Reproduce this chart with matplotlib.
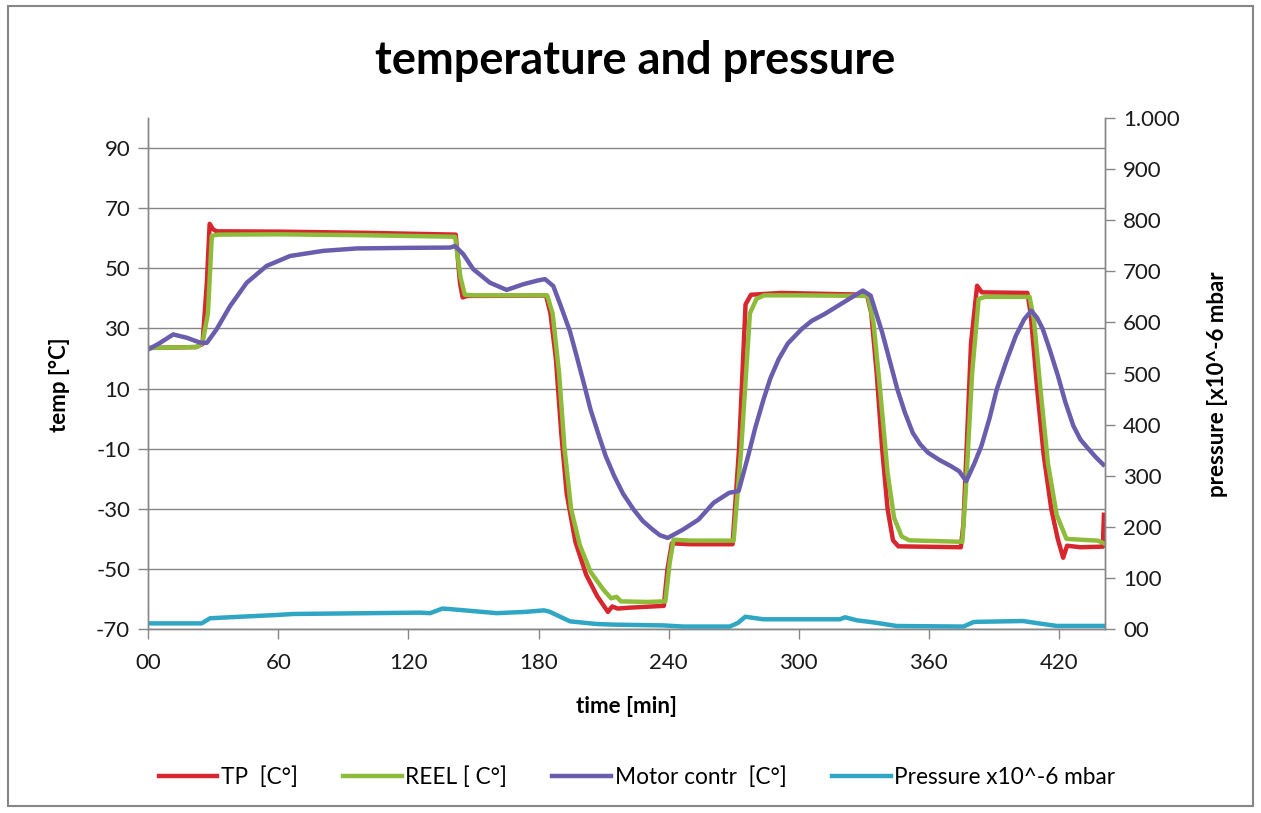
import matplotlib
matplotlib.use('Agg')
import matplotlib.pyplot as plt
from matplotlib.patches import Rectangle

# TP [C°]
tp_t = [0, 22, 25, 27, 28.3, 29.8, 31.5, 60, 100, 141.8, 143.8, 145, 147, 183.5, 185.5, 188,
        190.5, 193, 197, 202, 207, 212, 214, 216.5, 222, 237.8, 239.5, 241.5, 250, 269.5, 272.5,
        275.5, 278, 292, 331.5, 333.5, 336, 338.5, 341, 343.5, 346, 374.8, 376, 379.5, 382.3,
        384.5, 405.5, 407, 410, 413, 416.5, 419.5, 422, 423.8, 430, 440.3, 440.8]
tp_v = [23.5, 23.8, 24.8, 45, 64.8, 63, 62.3, 62.2, 61.8, 61.2, 45, 40.3, 40.8, 40.9, 35, 20,
        -5, -25, -41, -52, -59, -64.3, -62.5, -63.2, -62.9, -62.3, -50, -41.5, -41.8, -41.8, -10,
        38, 41.2, 41.8, 41.2, 35, 15, -10, -30, -40.5, -42.5, -42.8, -35, 25, 44.2,
        42, 41.8, 35, 10, -12, -30, -40, -46.3, -42.3, -42.8, -42.6, -32]

# REEL [ C°]
reel_t = [0, 22.5, 25, 27.5, 29.3, 32, 60, 100, 141.5, 144, 146, 150, 184, 186.5, 189.5, 192,
          195, 199, 204, 210, 213.5, 216, 218, 230, 238.5, 240.5, 242.3, 250, 270, 273.5, 277.5,
          280.5, 284, 300, 332, 334.5, 337.5, 341, 344, 347.5, 351, 375.5, 377, 380, 383, 386,
          406.5, 408.5, 411.5, 415, 419, 423.5, 430, 438, 440.8]
reel_v = [23.5, 23.8, 25.2, 35, 60.8, 61.2, 61.3, 61, 60.5, 47, 41.2, 41, 41, 35, 15, -10,
          -30, -42, -51, -57, -59.8, -59.3, -60.8, -61, -60.8, -48, -40.3, -40.6, -40.6, -10, 35,
          39.8, 41, 41, 40.8, 32, 10, -18, -33, -39.2, -40.5, -41, -25, 15, 39.8, 40.5,
          40.5, 33, 10, -15, -32, -40, -40.3, -40.6, -41.5]

# Motor contr [C°]
motor_t = [0, 5, 11.5, 17.7, 23.8, 27, 31.5, 37.7, 45.4, 54.6, 65.4, 80.7, 96.1, 120, 139.2,
           141.5, 145.3, 149.9, 157.6, 165.3, 173, 180, 183, 186.8, 190, 194.5, 197.5, 200.8,
           204, 207.9, 211, 214.9, 219, 223.8, 228, 232.6, 236, 239.6, 246.7, 253.8, 260.8,
           267.9, 272.3, 276.7, 280, 283.8, 287, 290.8, 295, 301.4, 306, 312, 320.8, 329.6,
           333.2, 338.5, 345.5, 349, 352.6, 356, 359.6, 365, 370.2, 374, 377.3, 381, 384.3,
           388, 391.4, 396, 400.2, 404, 407.3, 410, 412.6, 416, 419.6, 423, 426.7, 430, 433.8,
           437, 440.5]
motor_v = [23, 25, 28, 26.9, 25.3, 25.2, 29.7, 37.4, 45.2, 50.8, 54.1, 55.8, 56.6, 56.8, 56.9,
           57.4, 54.7, 49.7, 45.2, 42.8, 44.7, 46, 46.4, 44.1, 38, 29, 21, 12,
           3, -5.8, -12.5, -19.1, -25, -30.2, -34, -36.9, -38.8, -39.7, -36.9, -33.6, -28,
           -24.7, -24.1, -12.4, -3, 6.4, 13.5, 19.8, 25, 29.8, 32.5, 34.8, 38.7, 42.6,
           40.9, 28.7, 9.8, 2, -4.7, -8.5, -11.3, -13.8, -15.8, -17.5, -20.8, -15, -9.1,
           0, 9.8, 19.5, 27.6, 33, 35.9, 33.5, 29.8, 22.5, 14.2, 5.5, -2.4, -7, -10.2,
           -12.8, -15.3]

# Pressure x10^-6 mbar
pres_t = [0, 24.6, 28.5, 42.3, 59.2, 66.9, 96.1, 125.3, 130, 135.7, 139, 144.5, 160.7, 174,
          182.5, 185, 194.5, 206.8, 215, 237.6, 246.8, 268.2, 272, 275.4, 283.7, 319, 321.4,
          326.8, 334.4, 345.2, 376, 380.6, 382.1, 403.5, 406, 412.7, 419, 441]
pres_v = [11, 11, 21, 24, 27.4, 29.4, 30.7, 32, 31, 40, 39, 37, 31, 33.5,
          36.5, 34, 15, 9.8, 8.5, 7, 4.8, 4.8, 12, 24, 19, 19, 23,
          17, 13, 5.9, 4.8, 13.5, 14, 15.6, 14, 9.8, 6, 6]

x_ticks = [0, 60, 120, 180, 240, 300, 360, 420]
x_labels = ['00', '60', '120', '180', '240', '300', '360', '420']
temp_ticks = [90, 70, 50, 30, 10, -10, -30, -50, -70]
temp_labels = ['90', '70', '50', '30', '10', '-10', '-30', '-50', '-70']
pres_ticks = [0, 100, 200, 300, 400, 500, 600, 700, 800, 900, 1000]
pres_labels = ['00', '100', '200', '300', '400', '500', '600', '700', '800', '900', '1.000']

plt.rcParams['font.family'] = ['Lato', 'DejaVu Sans']
grey = '#868686'

fig = plt.figure(figsize=(12.61, 8.13), dpi=100)
ax = fig.add_axes([148.3 / 1261, 1 - 629 / 813, (1105 - 148.3) / 1261, (629 - 118) / 813])
ax2 = ax.twinx()

l1, = ax.plot(tp_t, tp_v, color='#D8262E', lw=3.2, label='TP  [C°]')
l2, = ax.plot(reel_t, reel_v, color='#8DBB3A', lw=3.2, label='REEL [ C°]')
l3, = ax.plot(motor_t, motor_v, color='#6A5DAE', lw=3.2, label='Motor contr  [C°]')
l4, = ax2.plot(pres_t, pres_v, color='#2FA6C4', lw=3.2, label='Pressure x10^-6 mbar')

ax.set_xlim(0, 441.3)
ax.set_ylim(-70, 100)
ax2.set_ylim(0, 1000)

ax.set_xticks(x_ticks)
ax.set_xticklabels(x_labels)
ax.set_yticks(temp_ticks)
ax.set_yticklabels(temp_labels)
ax2.set_yticks(pres_ticks)
ax2.set_yticklabels(pres_labels)

# grid only horizontal, excel style
ax.grid(axis='y', color=grey, lw=1)
ax.grid(axis='x', visible=False)

for a in (ax, ax2):
    a.spines['top'].set_visible(False)
    for s in ('left', 'right', 'bottom'):
        a.spines[s].set_color(grey)
        a.spines[s].set_linewidth(1)
    a.tick_params(colors=grey, labelcolor='#1a1a1a', labelsize=16, length=7, width=1)
ax.tick_params(axis='x', pad=10)
ax.tick_params(axis='y', pad=6)
ax2.tick_params(axis='y', pad=6)

fig.text(0.504, 0.925, 'temperature and pressure', ha='center', va='center',
         fontsize=32.5, fontweight='bold')
fig.text(626 / 1261, 1 - 706 / 813, 'time [min]', ha='center', va='center',
         fontsize=16, fontweight='bold')
fig.text(60 / 1261, 1 - 385 / 813, 'temp [°C]', ha='center', va='center', rotation=90,
         fontsize=16, fontweight='bold')
fig.text(1217 / 1261, 1 - 384 / 813, 'pressure [x10^-6 mbar', ha='center', va='center',
         rotation=90, fontsize=16, fontweight='bold')

fig.legend(handles=[l1, l2, l3, l4], loc='center', bbox_to_anchor=(0.505, 1 - 777 / 813),
           ncol=4, frameon=False, fontsize=16.3, handlelength=2.6, handletextpad=0.15,
           columnspacing=2.0)

# outer chart border
fig.patches.append(Rectangle((8 / 1261, 1 - 806 / 813), 1245 / 1261, 800 / 813,
                             transform=fig.transFigure, fill=False, edgecolor=grey, lw=1.5))

fig.savefig('out.png', dpi=100)
